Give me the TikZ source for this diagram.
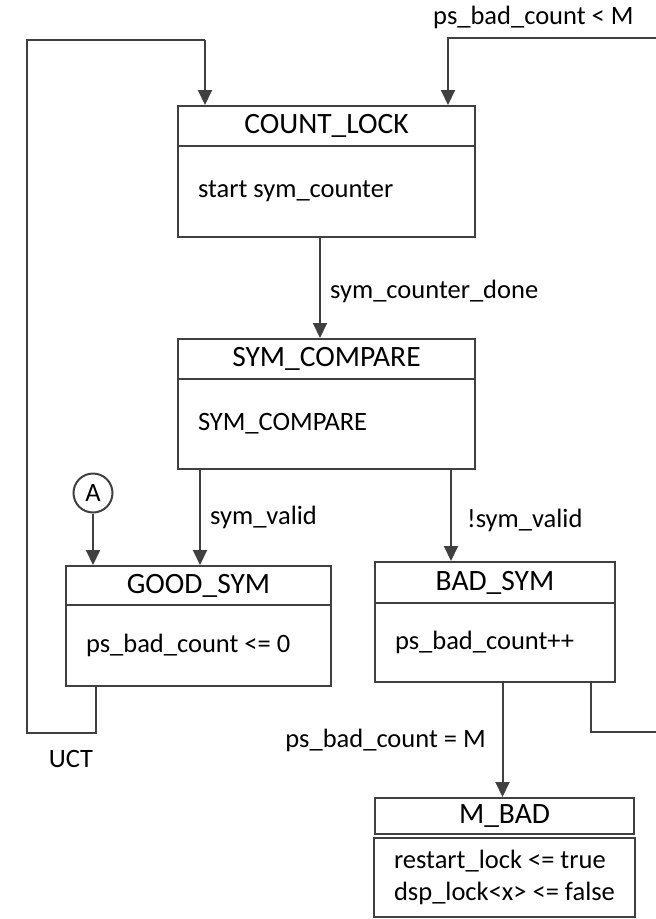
\documentclass[tikz,border=0pt]{standalone}
\usepackage{fontspec}
\setmainfont{Carlito}
\usetikzlibrary{arrows.meta}
\definecolor{linegray}{HTML}{404040}
\tikzset{
  head/.style={draw=linegray, line width=2pt, minimum height=40pt, inner sep=0pt, font=\fontsize{29.5}{32}\selectfont},
  body/.style={draw=linegray, line width=2pt, align=justify, inner xsep=20pt, inner ysep=0pt},
  cond/.style={inner sep=0pt},
  link/.style={draw=linegray, line width=2pt},
  arr/.style={link, -{Triangle[length=15pt,width=14pt]}}
}
\begin{document}
\begin{tikzpicture}[x=1pt, y=-1pt, font=\fontsize{26.5}{32}\selectfont]
\useasboundingbox (0,0) rectangle (656,919);
% states
\draw (326.5,126) node[head, minimum width=297pt](count) {COUNT\_LOCK};
\draw (326.5,191.5) node[body, text width=257pt, minimum height=91pt](countbody) {start sym\_counter};
\draw (326.5,359) node[head, minimum width=297pt](compare) {SYM\_COMPARE};
\draw (326.5,424) node[body, text width=257pt, minimum height=90pt](comparebody) {SYM\_COMPARE};
\draw (198.5,585.5) node[head, minimum width=265pt, minimum height=39pt](good) {GOOD\_SYM};
\draw (198.5,645.5) node[body, text width=225pt, minimum height=81pt](goodbody) {ps\_bad\_count <= 0};
\draw (495,582.5) node[head, minimum width=240pt, minimum height=41pt](bad) {BAD\_SYM};
\draw (495,642.5) node[body, text width=200pt, minimum height=79pt](badbody) {ps\_bad\_count++};
\draw (504.5,816) node[head, minimum width=259pt, minimum height=36pt](mbad) {M\_BAD};
\draw (504.5,877.5) node[body, align=left, minimum width=259pt, minimum height=79pt](mbadbody) {restart\_lock <= true\\dsp\_lock<x> <= false};
\draw (93,493) node[draw=linegray, line width=2pt, circle, minimum size=39pt, inner sep=0pt](a) {A};
% loop ends
\coordinate (uctcorner) at (27,733);
\coordinate (uctentry) at (205,40);
\coordinate (lessexit) at (656,732);
\coordinate (lessentry) at (656,38);
% transitions
\draw[arr] ([xshift=-6.5pt]countbody.south) -- ([xshift=-6.5pt]compare.north);
\draw[arr] ([xshift=23pt]comparebody.south west) -- ([xshift=23pt]comparebody.south west |- good.north);
\draw[arr] ([xshift=274pt]comparebody.south west) -- ([xshift=274pt]comparebody.south west |- bad.north);
\draw[arr] (a) -- (a |- good.north);
\draw[arr] ([xshift=7.5pt]badbody.south) -- ([xshift=7.5pt]badbody.south |- mbad.north);
\draw[link] ([xshift=31pt]goodbody.south west) |- (uctcorner) |- (uctentry);
\draw[arr] (uctentry) -- (uctentry |- count.north);
\draw[link] ([xshift=-25pt]badbody.south east) |- (lessexit);
\draw[arr] (lessentry) -| ([xshift=121.5pt]count.north);
% conditions
\node[cond, anchor=west](less) at (433,17) {ps\_bad\_count < M};
\node[cond, anchor=west](done) at (330,291) {sym\_counter\_done};
\node[cond, anchor=west](valid) at (210,517) {sym\_valid};
\node[cond, anchor=west](invalid) at (467,520) {!sym\_valid};
\node[cond](uct) at (71,759) {UCT};
\node[cond, anchor=east](equal) at (486,740) {ps\_bad\_count = M};
\end{tikzpicture}
\end{document}
